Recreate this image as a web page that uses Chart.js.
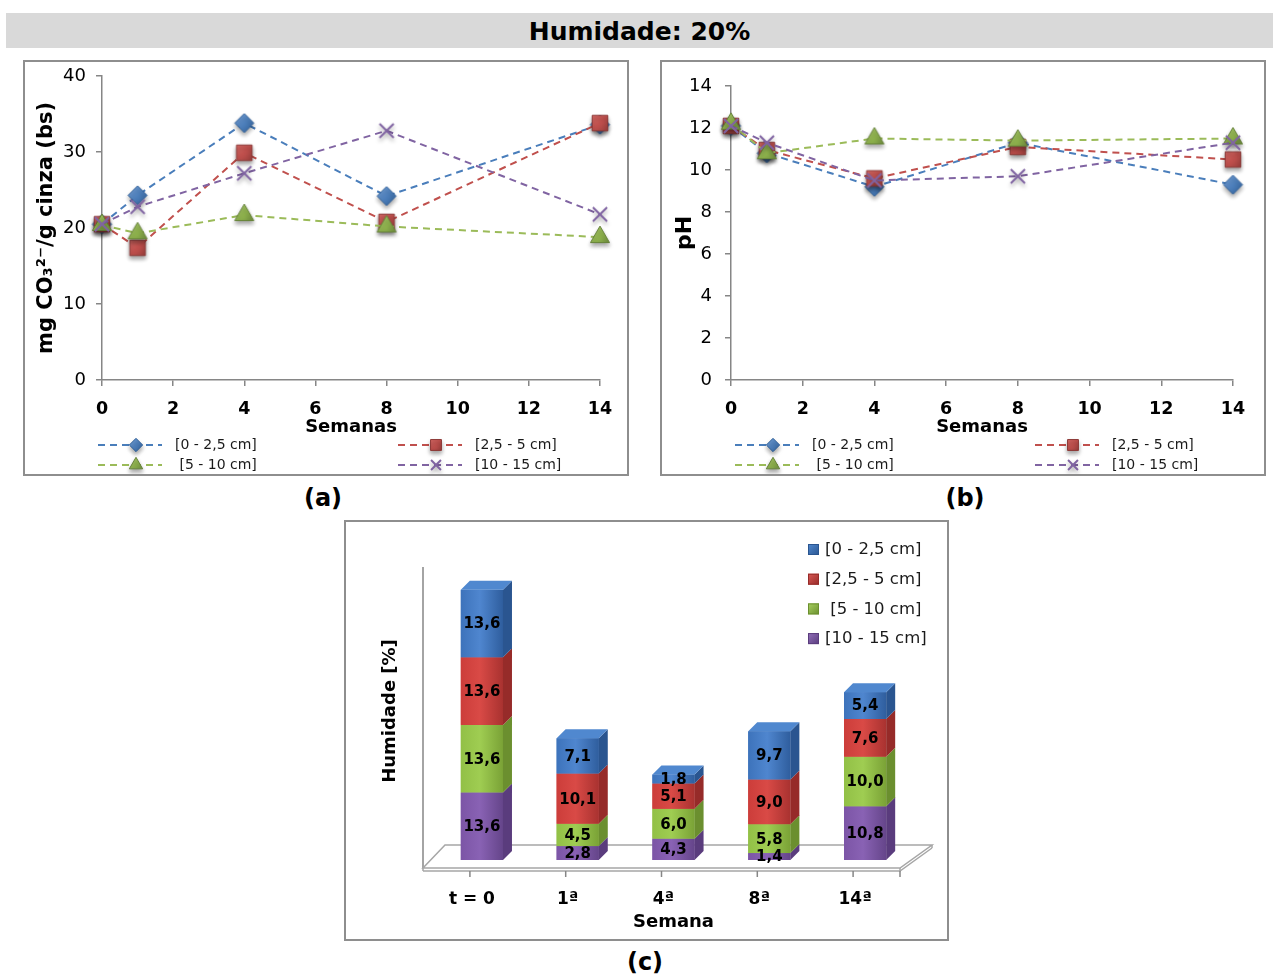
<!DOCTYPE html>
<html><head><meta charset="utf-8">
<script src="https://cdn.jsdelivr.net/npm/chart.js@4.4.0/dist/chart.umd.min.js"></script>
<style>
body{margin:0;background:#fff;width:1273px;height:975px;position:relative;overflow:hidden;font-family:"DejaVu Sans",sans-serif;}
.box{position:absolute;}
.frame{position:absolute;border:2px solid #8e8e8e;box-sizing:border-box;pointer-events:none;}
#title{position:absolute;left:6px;top:13px;width:1267px;height:35px;background:#d9d9d9;text-align:center;font:bold 25px "DejaVu Sans";line-height:38px;color:#000;}
.lab{position:absolute;font:bold 24px "DejaVu Sans";transform:translate(-50%,-50%);color:#000;}
</style></head>
<body>
<div id="title">Humidade: 20%</div>
<div class="box" style="left:23px;top:60px;width:606px;height:416px"><canvas id="ca"></canvas></div>
<div class="frame" style="left:23px;top:60px;width:606px;height:416px"></div>
<div class="box" style="left:660px;top:60px;width:606px;height:416px"><canvas id="cb"></canvas></div>
<div class="frame" style="left:660px;top:60px;width:606px;height:416px"></div>
<div class="box" style="left:344px;top:520px;width:605px;height:421px"><canvas id="cc"></canvas></div>
<div class="frame" style="left:344px;top:520px;width:605px;height:421px"></div>
<div class="lab" style="left:323px;top:498px">(a)</div>
<div class="lab" style="left:965px;top:498px">(b)</div>
<div class="lab" style="left:645px;top:962px">(c)</div>
<script>
// ---------- DATA ----------
const weeks = [0, 1, 4, 8, 14];
const depthLabels = ['[0 - 2,5 cm]', '[2,5 - 5 cm]', ' [5 - 10 cm]', '[10 - 15 cm]'];
const xTickStep = 2;
// (a) mg CO3 2- / g cinza (bs)
const co3_0_25  = [20.5, 24.3, 33.8, 24.2, 33.6];
const co3_25_5  = [20.5, 17.4, 29.9, 20.8, 33.8];
const co3_5_10  = [20.4, 19.3, 21.7, 20.2, 18.8];
const co3_10_15 = [20.5, 22.8, 27.2, 32.8, 21.8];
const co3Ticks = [0, 10, 20, 30, 40];
// (b) pH
const ph_0_25  = [12.1, 10.8, 9.2, 11.3, 9.3];
const ph_25_5  = [12.1, 10.95, 9.6, 11.1, 10.5];
const ph_5_10  = [12.2, 10.8, 11.5, 11.4, 11.5];
const ph_10_15 = [12.1, 11.3, 9.5, 9.7, 11.3];
const phTicks = [0, 2, 4, 6, 8, 10, 12, 14];
// (c) Humidade [%]
const humCategories = ['t = 0', '1ª', '4ª', '8ª', '14ª'];
const hum_0_25  = [13.6, 7.1, 1.8, 9.7, 5.4];
const hum_25_5  = [13.6, 10.1, 5.1, 9.0, 7.6];
const hum_5_10  = [13.6, 4.5, 6.0, 5.8, 10.0];
const hum_10_15 = [13.6, 2.8, 4.3, 1.4, 10.8];

// ---------- STYLE ----------
Chart.defaults.font.family = '"DejaVu Sans", sans-serif';
Chart.defaults.color = '#000';
Chart.defaults.animation = false;
const GRAY = '#868686';
const COL = {
  blue:   {line:'#4a7ebb', fill:'#4f81bd', hi:'#7aa6dd', edge:'#2f5f98', front:'#3d73bb', light:'#4f86cf', dark:'#2f5e9e', side:'#2a5590', top:'#5088cf'},
  red:    {line:'#c0504d', fill:'#c0504d', hi:'#e0736f', edge:'#8c3836', front:'#cc3d3a', light:'#d94a46', dark:'#a93230', side:'#962b29', top:'#da5955'},
  green:  {line:'#9bbb59', fill:'#8fb34d', hi:'#b3d273', edge:'#66823a', front:'#92c046', light:'#9fcd52', dark:'#7aa236', side:'#6b8f2f', top:'#a8d160'},
  purple: {line:'#8064a2', fill:'#8064a2', hi:'#9c84bd', edge:'#8064a2', front:'#7c55a6', light:'#8962b4', dark:'#65458a', side:'#5a3c7d', top:'#9270ba'}
};

// shaded marker images (styling only)
function makeMarker(style, c, r, cross) {
  const S = Math.ceil(2 * r + 14);
  const cv = document.createElement('canvas'); cv.width = S; cv.height = S;
  const g = cv.getContext('2d');
  const cx = S / 2, cy = S / 2;
  g.shadowColor = 'rgba(0,0,0,0.35)'; g.shadowBlur = 4; g.shadowOffsetY = 3;
  if (cross) {
    g.strokeStyle = c.line; g.lineWidth = 2;
  } else {
    const gr = g.createLinearGradient(cx - r, cy - r, cx + r, cy + r);
    gr.addColorStop(0, c.hi); gr.addColorStop(0.5, c.fill); gr.addColorStop(1, c.edge);
    g.fillStyle = gr; g.strokeStyle = c.edge; g.lineWidth = 1;
  }
  Chart.helpers.drawPoint(g, {pointStyle: style, rotation: 0, radius: r, borderWidth: cross ? 2 : 1}, cx, cy);
  return cv;
}

function lineDs(label, vals, c, style, radius, order, cross) {
  return {
    label, data: weeks.map((w, i) => ({x: w, y: vals[i]})),
    borderColor: c.line, borderWidth: 2, borderDash: [7, 5],
    backgroundColor: c.fill, pointBackgroundColor: c.fill,
    pointBorderColor: cross ? c.line : c.edge, pointBorderWidth: cross ? 2 : 1,
    pointStyle: makeMarker(style, c, radius, cross), pointRadius: radius, pointHoverRadius: radius,
    legendMarker: makeMarker(style, c, radius * 0.7, cross),
    fill: false, tension: 0, order, clip: false
  };
}
function lineSets(a, b, c, d) {
  return [
    lineDs(depthLabels[0], a, COL.blue, 'rectRot', 9.5, 4),
    lineDs(depthLabels[1], b, COL.red, 'rect', 11, 3),
    lineDs(depthLabels[2], c, COL.green, 'triangle', 11, 2),
    lineDs(depthLabels[3], d, COL.purple, 'crossRot', 10, 1, true)
  ];
}

const lineLegend = {
  id: 'lineLegend',
  afterDraw(chart, args, o) {
    const ctx = chart.ctx;
    chart.data.datasets.forEach((ds, i) => {
      const x0 = o.cols[i % 2], y = o.y0 + Math.floor(i / 2) * o.dy;
      ctx.save();
      ctx.strokeStyle = ds.borderColor; ctx.lineWidth = 2; ctx.setLineDash([7, 5]);
      ctx.beginPath(); ctx.moveTo(x0, y); ctx.lineTo(x0 + o.len, y); ctx.stroke();
      ctx.setLineDash([]);
      const m = ds.legendMarker;
      ctx.drawImage(m, x0 + o.mark - m.width / 2, y - m.height / 2);
      ctx.fillStyle = '#1a1a1a'; ctx.font = '14px "DejaVu Sans"'; ctx.textBaseline = 'middle'; ctx.textAlign = 'left';
      ctx.fillText(ds.label, x0 + o.text, y);
      ctx.restore();
    });
  }
};

function axisCommon() {
  return {
    grid: {display: true, drawOnChartArea: false, drawTicks: true, tickLength: 6, color: GRAY, lineWidth: 1.5},
    border: {display: true, color: GRAY, width: 1.5}
  };
}
function lineOptions(cfg) {
  return {
    responsive: true, maintainAspectRatio: false, animation: false,
    layout: {padding: {left: 0, top: cfg.top, right: cfg.right, bottom: 38}},
    plugins: {legend: {display: false}, tooltip: {enabled: false},
      lineLegend: {cols: [75, 375], y0: 385, dy: 20, len: 64, mark: 38, text: 77}},
    scales: {
      x: Object.assign(axisCommon(), {
        type: 'linear', min: 0, max: 14,
        afterFit: s => { s.height = 58; },
        ticks: {stepSize: xTickStep, font: {size: 17.5, weight: 'bold'}, padding: 13, color: '#000'},
        title: {display: true, text: 'Semanas', font: {size: 18, weight: 'bold'}, padding: {top: 0, bottom: 0}, color: '#000'}
      }),
      y: Object.assign(axisCommon(), {
        min: 0, max: cfg.ticks[cfg.ticks.length - 1],
        afterFit: s => { s.width = cfg.yw; s.paddingTop = 0; s.paddingBottom = 0; },
        afterBuildTicks: s => { s.ticks = cfg.ticks.map(v => ({value: v})); },
        ticks: {font: {size: 18}, padding: cfg.ypad, color: '#000'},
        title: {display: true, text: cfg.ytitle, font: {size: cfg.ytsize, weight: 'bold'}, padding: {top: cfg.ytpad, bottom: 0}, color: '#000'}
      })
    }
  };
}

new Chart(document.getElementById('ca'), {
  type: 'line',
  data: {datasets: lineSets(co3_0_25, co3_25_5, co3_5_10, co3_10_15)},
  options: lineOptions({top: 16, right: 29, yw: 79, ypad: 10, ticks: co3Ticks, ytitle: 'mg CO₃²⁻/g cinza (bs)', ytsize: 21, ytpad: 11}),
  plugins: [lineLegend]
});
new Chart(document.getElementById('cb'), {
  type: 'line',
  data: {datasets: lineSets(ph_0_25, ph_25_5, ph_5_10, ph_10_15)},
  options: lineOptions({top: 26, right: 33, yw: 71, ypad: 13, ticks: phTicks, ytitle: 'pH', ytsize: 22, ytpad: 12}),
  plugins: [lineLegend]
});

// ---------- (c) 3D stacked bars ----------
const DX = 9, DY = -9;
const barFaces = [COL.purple, COL.green, COL.red, COL.blue];
function poly(ctx, pts, fill) {
  ctx.beginPath(); ctx.moveTo(pts[0][0], pts[0][1]);
  for (let i = 1; i < pts.length; i++) ctx.lineTo(pts[i][0], pts[i][1]);
  ctx.closePath(); ctx.fillStyle = fill; ctx.fill();
}
const bar3d = {
  id: 'bar3d',
  beforeDatasetsDraw(chart) {
    const ctx = chart.ctx, a = chart.chartArea, xs = chart.scales.x;
    ctx.save();
    ctx.strokeStyle = GRAY; ctx.lineWidth = 1.5;
    ctx.beginPath(); ctx.moveTo(a.left - 11, a.top + 5); ctx.lineTo(a.left - 11, a.bottom + 8); ctx.stroke();
    const fl = [[a.left - 11, a.bottom + 8], [a.right - 13, a.bottom + 8], [a.right + 19, a.bottom - 15], [a.left + 11, a.bottom - 15]];
    poly(ctx, fl, '#ffffff');
    ctx.strokeStyle = '#a6a6a6'; ctx.lineWidth = 1.5;
    ctx.beginPath(); fl.forEach((p, i) => i ? ctx.lineTo(p[0], p[1]) : ctx.moveTo(p[0], p[1])); ctx.closePath(); ctx.stroke();
    ctx.beginPath(); ctx.moveTo(a.left - 11, a.bottom + 11); ctx.lineTo(a.right - 13, a.bottom + 11); ctx.lineTo(a.right + 19, a.bottom - 12); ctx.stroke();
    ctx.beginPath(); ctx.moveTo(a.left - 11, a.bottom + 8); ctx.lineTo(a.left - 11, a.bottom + 11); ctx.moveTo(a.right - 13, a.bottom + 8); ctx.lineTo(a.right - 13, a.bottom + 11); ctx.moveTo(a.right + 19, a.bottom - 15); ctx.lineTo(a.right + 19, a.bottom - 12); ctx.stroke();
    ctx.strokeStyle = GRAY; ctx.lineWidth = 1.5;
    const tx = xs.ticks.map((t, i) => xs.getPixelForTick(i) - 12).concat([a.right - 13]);
    tx.forEach(x => { ctx.beginPath(); ctx.moveTo(x, a.bottom + 11); ctx.lineTo(x, a.bottom + 17); ctx.stroke(); });
    ctx.restore();
  },
  afterDatasetsDraw(chart) {
    const ctx = chart.ctx;
    const n = chart.data.datasets.length;
    ctx.save();
    for (let d = 0; d < n; d++) {
      const meta = chart.getDatasetMeta(d);
      meta.data.forEach((el) => {
        const l = el.x - el.width / 2, r = el.x + el.width / 2, t = el.y, b = el.base;
        const g = ctx.createLinearGradient(l, 0, r, 0);
        g.addColorStop(0, barFaces[d].front); g.addColorStop(0.45, barFaces[d].light); g.addColorStop(1, barFaces[d].dark);
        ctx.fillStyle = g; ctx.fillRect(l, t, r - l, b - t);
        poly(ctx, [[r, t], [r + DX, t + DY], [r + DX, b + DY], [r, b]], barFaces[d].side);
        if (d === n - 1) poly(ctx, [[l, t], [l + DX, t + DY], [r + DX, t + DY], [r, t]], barFaces[d].top);
      });
    }
    ctx.fillStyle = '#000'; ctx.font = 'bold 15px "DejaVu Sans"'; ctx.textAlign = 'center'; ctx.textBaseline = 'middle';
    for (let d = 0; d < n; d++) {
      const meta = chart.getDatasetMeta(d);
      meta.data.forEach((el, j) => {
        const v = chart.data.datasets[d].data[j];
        ctx.fillText(v.toFixed(1).replace('.', ','), el.x, (el.y + el.base) / 2 + 1);
      });
    }
    ctx.restore();
  },
  afterDraw(chart) {
    const ctx = chart.ctx, n = chart.data.datasets.length;
    ctx.save();
    ctx.font = '16.5px "DejaVu Sans"'; ctx.textBaseline = 'middle'; ctx.textAlign = 'left';
    for (let k = 0; k < n; k++) {
      const d = n - 1 - k, ds = chart.data.datasets[d], y = 30 + k * 29.7;
      const g = ctx.createLinearGradient(464, y - 6, 475, y + 5);
      g.addColorStop(0, barFaces[d].top); g.addColorStop(1, barFaces[d].side);
      ctx.fillStyle = g; ctx.fillRect(464, y - 6, 11, 11);
      ctx.strokeStyle = barFaces[d].side; ctx.lineWidth = 1; ctx.strokeRect(464.5, y - 5.5, 10, 10);
      ctx.fillStyle = '#1a1a1a'; ctx.fillText(ds.label, 481, y);
    }
    ctx.restore();
  }
};

new Chart(document.getElementById('cc'), {
  type: 'bar',
  data: {
    labels: humCategories,
    datasets: [
      {label: depthLabels[3], data: hum_10_15, backgroundColor: COL.purple.front},
      {label: depthLabels[2], data: hum_5_10, backgroundColor: COL.green.front},
      {label: depthLabels[1], data: hum_25_5, backgroundColor: COL.red.front},
      {label: depthLabels[0], data: hum_0_25, backgroundColor: COL.blue.front}
    ].map(d => Object.assign(d, {barPercentage: 0.44, categoryPercentage: 1.0, borderWidth: 0}))
  },
  options: {
    responsive: true, maintainAspectRatio: false, animation: false,
    layout: {padding: {left: 0, top: 42, right: 36, bottom: 0}},
    plugins: {legend: {display: false}, tooltip: {enabled: false}},
    scales: {
      x: {stacked: true, afterFit: s => { s.height = 81; },
        grid: {display: false, drawTicks: false}, border: {display: false},
        ticks: {font: {size: 17, weight: 'bold'}, labelOffset: -10, padding: 29, color: '#000'},
        title: {display: true, text: 'Semana', font: {size: 18, weight: 'bold'}, padding: {top: 0, bottom: 8}, color: '#000'}},
      y: {stacked: true, min: 0, max: 60, afterFit: s => { s.width = 90; },
        grid: {display: false, drawTicks: false}, border: {display: false},
        ticks: {display: false},
        title: {display: true, text: 'Humidade [%]', font: {size: 18, weight: 'bold'}, padding: {top: 36, bottom: 0}, color: '#000'}}
    }
  },
  plugins: [bar3d]
});
</script>
</body></html>
